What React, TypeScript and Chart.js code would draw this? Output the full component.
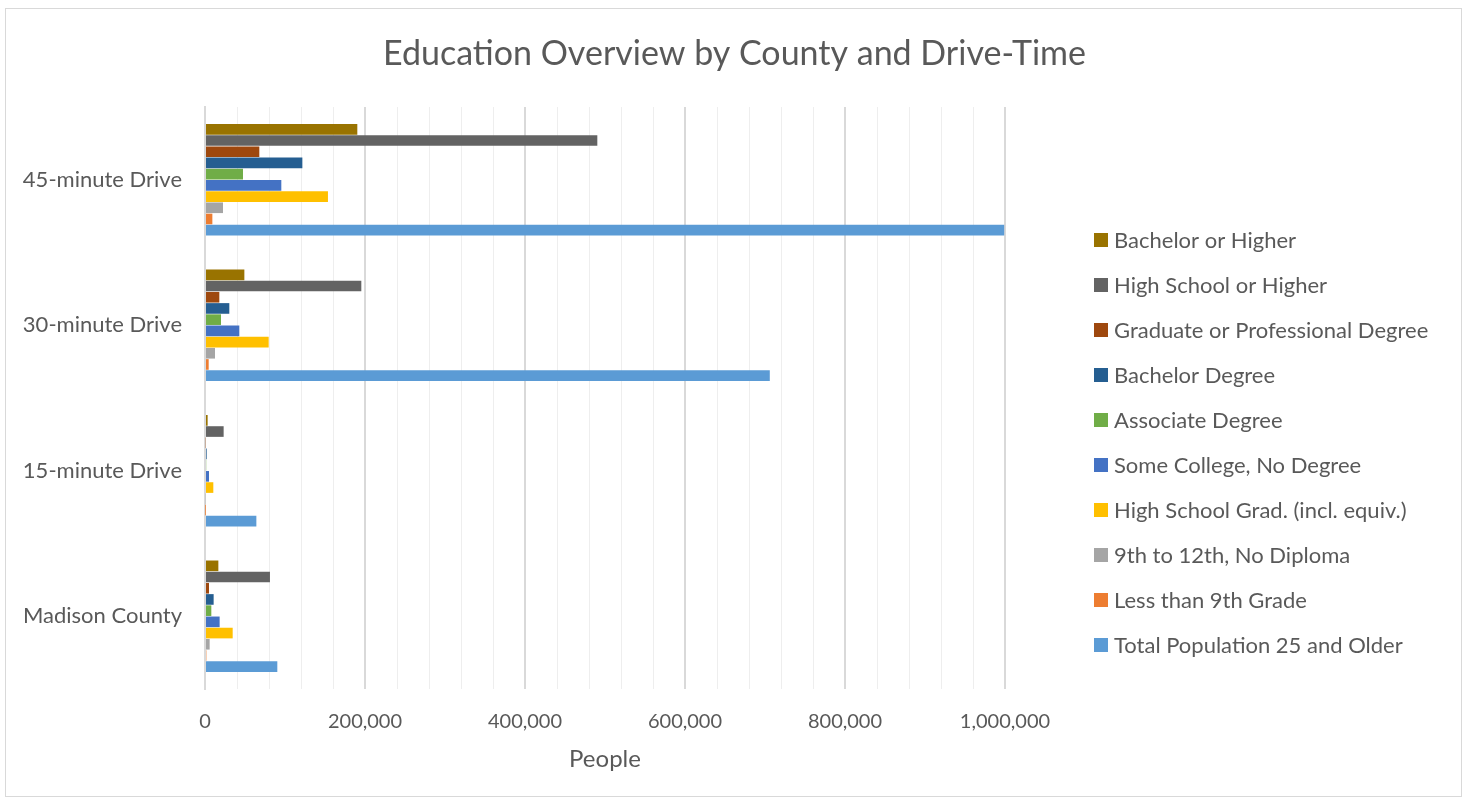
import React, { useEffect, useRef } from 'react';
import { Chart, registerables } from 'chart.js';

Chart.register(...registerables);

const chartTitle = 'Education Overview by County and Drive-Time';
const axisTitle = 'People';
const categories = ['45-minute Drive', '30-minute Drive', '15-minute Drive', 'Madison County'];

const seriesNames = [
  'Bachelor or Higher',
  'High School or Higher',
  'Graduate or Professional Degree',
  'Bachelor Degree',
  'Associate Degree',
  'Some College, No Degree',
  'High School Grad. (incl. equiv.)',
  '9th to 12th, No Diploma',
  'Less than 9th Grade',
  'Total Population 25 and Older',
];

const bachelorOrHigher = [190400, 49200, 3300, 16700];
const highSchoolOrHigher = [490400, 195400, 23300, 81200];
const graduateDegree = [67900, 17900, 900, 5000];
const bachelorDegree = [121700, 30400, 2100, 10800];
const associateDegree = [47500, 20000, 1500, 7900];
const someCollege = [95400, 42900, 5000, 18300];
const highSchoolGrad = [153700, 79600, 10400, 34600];
const ninthTo12th = [22500, 12500, 900, 5800];
const lessThan9th = [9200, 4600, 300, 1700];
const totalPopulation = [999000, 706000, 64200, 90400];

const seriesValues = [
  bachelorOrHigher,
  highSchoolOrHigher,
  graduateDegree,
  bachelorDegree,
  associateDegree,
  someCollege,
  highSchoolGrad,
  ninthTo12th,
  lessThan9th,
  totalPopulation,
];

const seriesColors = [
  '#997300',
  '#636363',
  '#9E480E',
  '#255E91',
  '#70AD47',
  '#4472C4',
  '#FFC000',
  '#A5A5A5',
  '#ED7D31',
  '#5B9BD5',
];

const xMin = 0;
const xMax = 1000000;
const minorStep = 40000;
const majorStep = 200000;

const FONT = 'Lato';
const TEXT = '#595959';

export default function App() {
  const ref = useRef<HTMLCanvasElement>(null);

  useEffect(() => {
    if (!ref.current) return;
    const datasets = seriesNames.map((name, i) => ({
      label: name,
      data: seriesValues[i],
      backgroundColor: seriesColors[i],
      borderWidth: 0,
      categoryPercentage: 0.77,
      barPercentage: 0.95,
    }));

    const decorations = {
      id: 'decorations',
      afterDraw(chart: any) {
        const ctx = chart.ctx;
        ctx.save();
        // title centred on the whole frame
        ctx.font = `34px ${FONT}`;
        ctx.fillStyle = TEXT;
        ctx.textAlign = 'center';
        ctx.textBaseline = 'middle';
        ctx.fillText(chartTitle, chart.width / 2 + 1, 45);
        // legend on the right
        const x = chart.chartArea.right + 89;
        ctx.font = `22px ${FONT}`;
        ctx.textAlign = 'left';
        chart.data.datasets.forEach((ds: any, i: number) => {
          const cy = 231 + i * 45;
          ctx.fillStyle = ds.backgroundColor;
          ctx.fillRect(x, cy - 7, 14, 14);
          ctx.fillStyle = TEXT;
          ctx.fillText(ds.label, x + 20, cy + 1);
        });
        ctx.restore();
      },
    };

    const chart = new Chart(ref.current, {
      type: 'bar',
      data: { labels: categories, datasets },
      options: {
        indexAxis: 'y',
        responsive: false,
        animation: false,
        layout: { padding: { left: 0, right: 456, top: 98, bottom: 22 } },
        plugins: {
          legend: { display: false },
          tooltip: { enabled: false },
          title: { display: false },
        },
        scales: {
          x: {
            type: 'linear',
            min: xMin,
            max: xMax,
            ticks: {
              stepSize: minorStep,
              autoSkip: false,
              maxRotation: 0,
              padding: 21,
              color: TEXT,
              font: { family: FONT, size: 20 },
              callback: (v: any) => (Number(v) % majorStep === 0 ? Number(v).toLocaleString('en-US') : ''),
            },
            grid: {
              drawTicks: false,
              color: (c: any) => (c.tick && c.tick.value % majorStep === 0 ? '#d9d9d9' : '#eeeeee'),
              lineWidth: (c: any) => (c.tick && c.tick.value % majorStep === 0 ? 2 : 1),
            },
            border: { display: false },
            title: {
              display: true,
              text: axisTitle,
              color: TEXT,
              font: { family: FONT, size: 24 },
              padding: { top: 0, bottom: 0 },
            },
            afterFit: (s: any) => {
              s.height = 85;
            },
          },
          y: {
            type: 'category',
            grid: { display: false, drawTicks: false },
            border: { display: true, color: '#d9d9d9', width: 2 },
            ticks: {
              padding: 23,
              color: TEXT,
              font: { family: FONT, size: 22 },
            },
            afterFit: (s: any) => {
              s.width = 199;
            },
          },
        },
      },
      plugins: [decorations],
    } as any);
    return () => chart.destroy();
  }, []);

  return (
    <div
      style={{
        position: 'absolute',
        left: 5,
        top: 8,
        width: 1455,
        height: 787,
        border: '1px solid #d9d9d9',
        background: '#fff',
      }}
    >
      <canvas ref={ref} width={1455} height={787} style={{ display: 'block' }} />
    </div>
  );
}
